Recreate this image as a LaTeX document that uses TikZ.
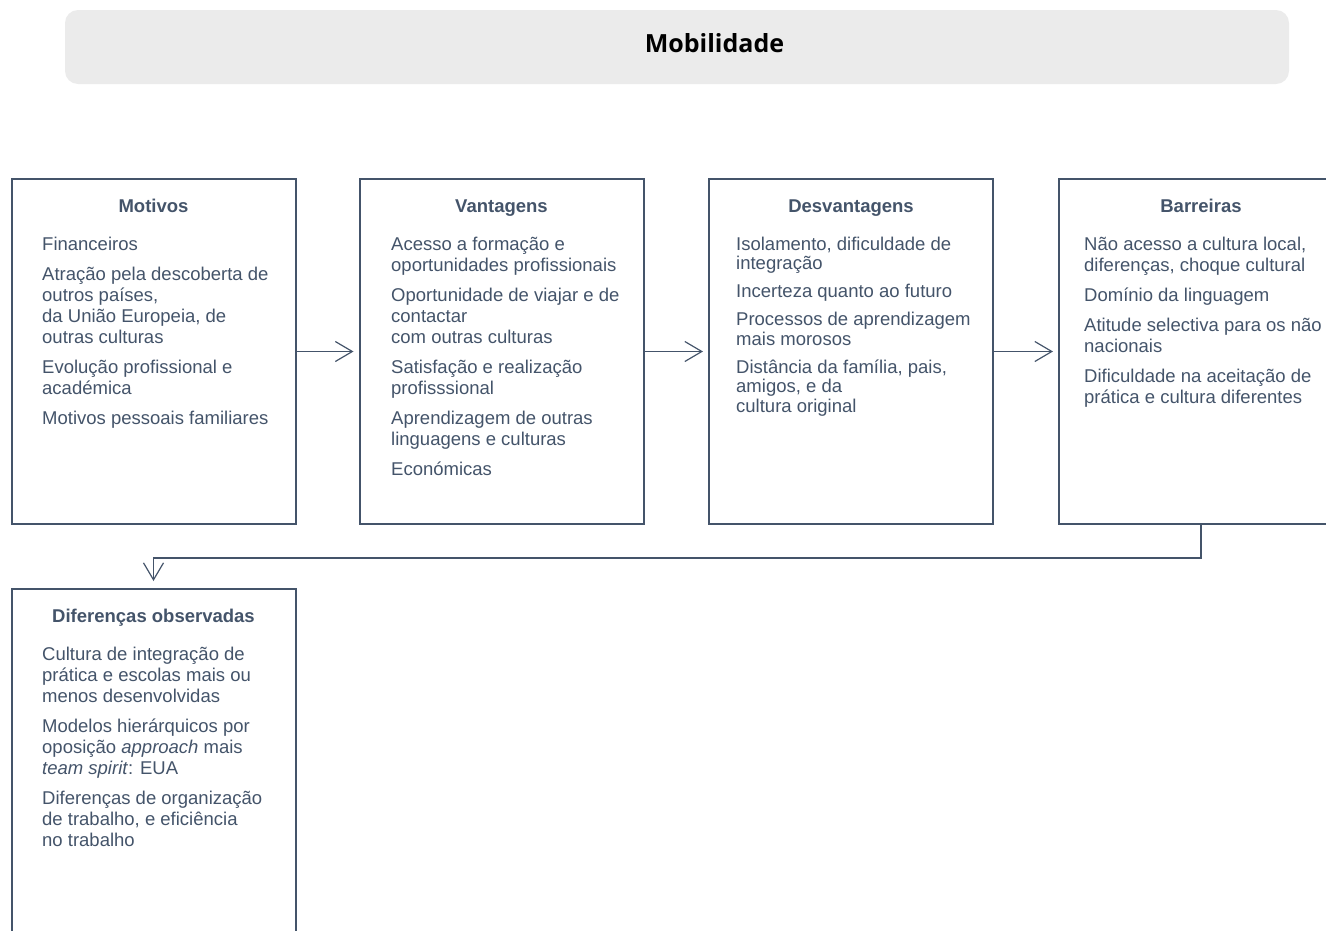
\documentclass[tikz,border=0pt]{standalone}
\usepackage{fontspec}
\setmainfont{Liberation Sans}
\newfontfamily\titlefont{Open Sans}
\usetikzlibrary{arrows.meta}
\definecolor{ink}{HTML}{44546A}
\definecolor{barfill}{HTML}{EBEBEB}
\newcommand{\firstline}{\rule{0pt}{18pt}}
\begin{document}
\begin{tikzpicture}[x=1pt,y=-1pt,
  box/.style={draw=ink, line width=2pt, minimum width=284pt, minimum height=345pt, inner sep=0pt, fill=white},
  head/.style={anchor=base, text=ink, font=\fontsize{18.5}{21}\selectfont\bfseries, inner sep=0pt},
  body/.style={anchor=north west, text=ink, align=left, font=\fontsize{18.5}{21}\selectfont, inner sep=0pt},
  tight/.style={font=\fontsize{18.5}{19.5}\selectfont},
  conn/.style={draw=ink, line width=1.2pt, -{Straight Barb[length=17pt,width=20pt,line width=1.2pt]}},
  titlebar/.style={fill=barfill, draw=none, rounded corners=13pt, minimum width=1224pt, minimum height=74pt, inner sep=0pt},
  titletext/.style={anchor=base, inner sep=0pt, font=\titlefont\bfseries\fontsize{25}{30}\selectfont, text=black}
]
\useasboundingbox (0,0) rectangle (1326,930);

% title
\node[titlebar] (tbar) at (677,47) {};
\node[titletext] (title) at (714.5,52.3) {Mobilidade};

% boxes
\node[box] (mot) at (153.5,351.5) {};
\node[box] (van) at (501.5,351.5) {};
\node[box] (des) at (851,351.5) {};
\node[box] (bar) at (1201,351.5) {};
\node[box] (dif) at (153.5,761.5) {};

% headings
\node[head] (motH) at (153.5,212) {Motivos};
\node[head] (vanH) at (501.5,212) {Vantagens};
\node[head] (desH) at (851,212) {Desvantagens};
\node[head] (barH) at (1201,212) {Barreiras};
\node[head] (difH) at (153.5,622) {Diferenças observadas};

% bodies (first baseline = y + 18)
\node[body] (motB) at (42,232) {\firstline Financeiros\\[9pt]
Atração pela descoberta de\\ outros países,\\ da União Europeia, de\\ outras culturas\\[9pt]
Evolução profissional e\\ académica\\[9pt]
Motivos pessoais familiares};

\node[body] (vanB) at (391,232) {\firstline Acesso a formação e\\ oportunidades profissionais\\[9pt]
Oportunidade de viajar e de\\ contactar\\ com outras culturas\\[9pt]
Satisfação e realização\\ profisssional\\[9pt]
Aprendizagem de outras\\ linguagens e culturas\\[9pt]
Económicas};

\node[body,tight] (desB) at (736,232) {\firstline Isolamento, dificuldade de\\ integração\\[8.5pt]
Incerteza quanto ao futuro\\[8.5pt]
Processos de aprendizagem\\ mais morosos\\[8.5pt]
Distância da família, pais,\\ amigos, e da\\ cultura original};

\node[body] (barB) at (1084,232) {\firstline Não acesso a cultura local,\\ diferenças, choque cultural\\[9pt]
Domínio da linguagem\\[9pt]
Atitude selectiva para os não\\ nacionais\\[9pt]
Dificuldade na aceitação de\\ prática e cultura diferentes};

\node[body] (difB) at (42,642) {\firstline Cultura de integração de\\ prática e escolas mais ou\\ menos desenvolvidas\\[9pt]
Modelos hierárquicos por\\ oposição \textit{approach} mais\\ \textit{team spirit}: EUA\\[9pt]
Diferenças de organização\\ de trabalho, e eficiência\\ no trabalho};

% connectors
\draw[conn, shorten >=5pt] (mot.east) -- (van.west);
\draw[conn, shorten >=5pt] (van.east) -- (des.west);
\draw[conn, shorten >=5pt] (des.east) -- (bar.west);
\draw[conn, shorten >=7pt] (bar.south) -- ++(0,33) -| (dif.north);
\end{tikzpicture}
\end{document}
